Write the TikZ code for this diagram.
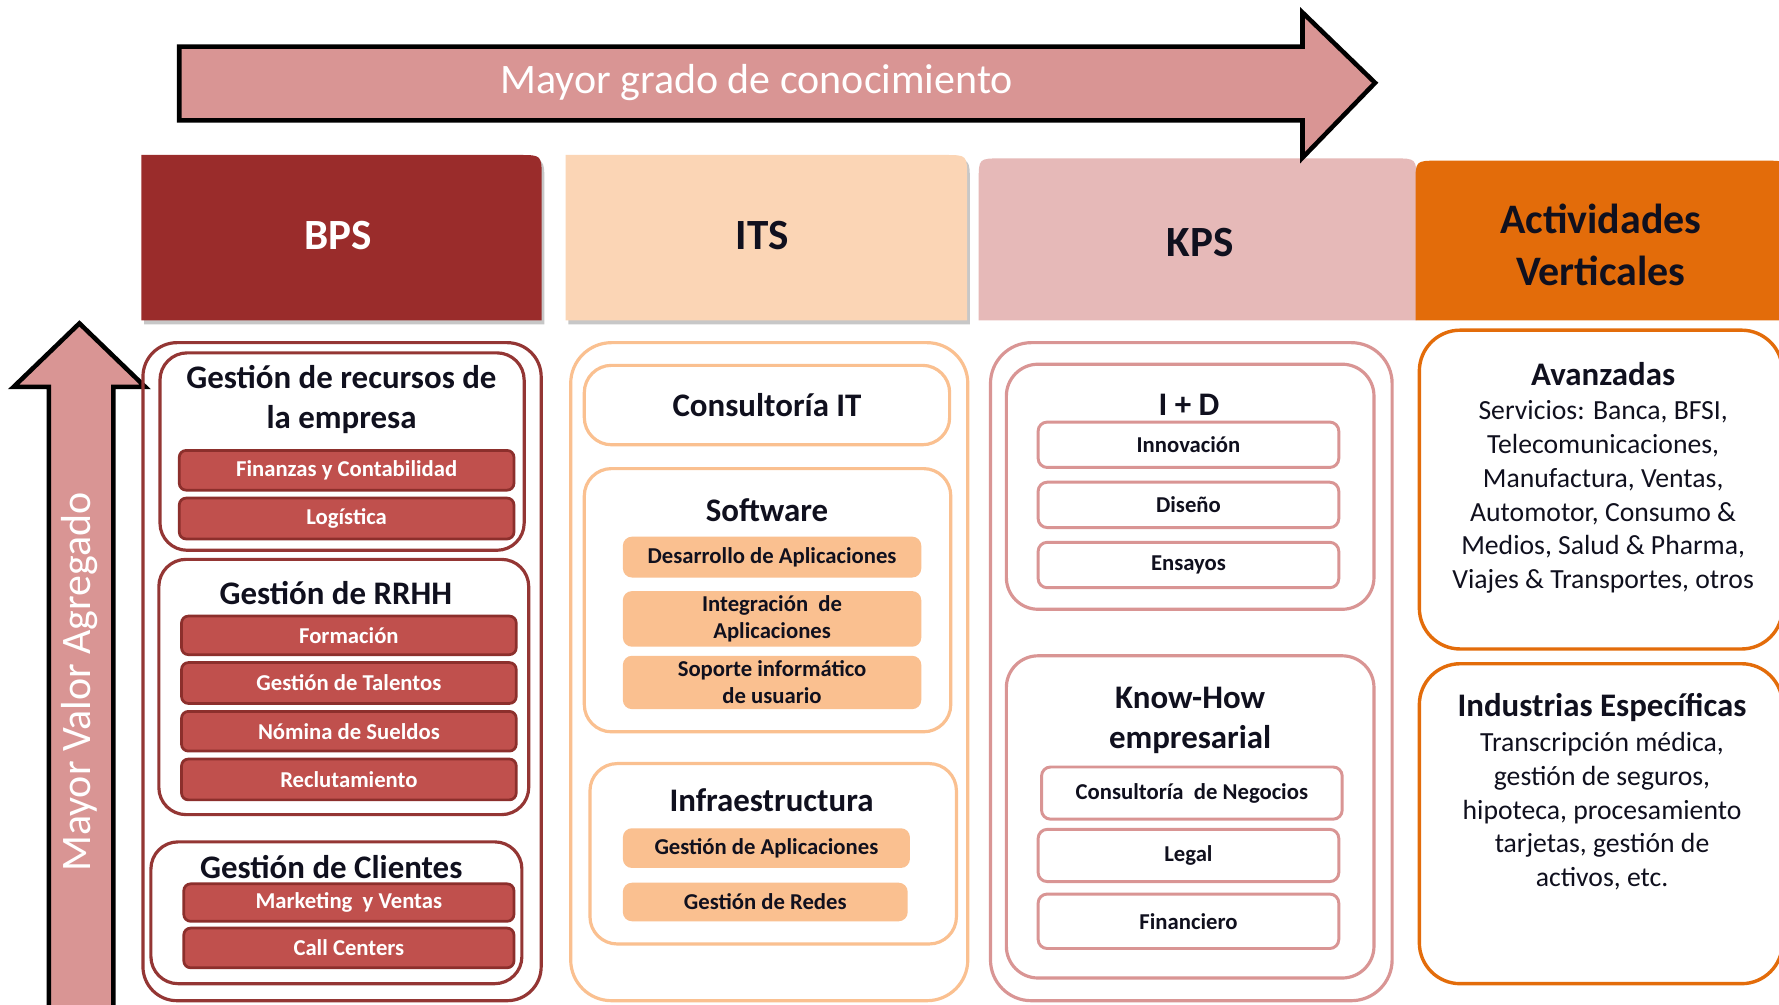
\documentclass[tikz,border=0pt]{standalone}
\usepackage{fontspec}
\setmainfont{Carlito}
\usetikzlibrary{fit}

\definecolor{arrowpink}{HTML}{D99594}
\definecolor{bpsdark}{HTML}{9A2C2B}
\definecolor{bpsline}{HTML}{943634}
\definecolor{bpsitem}{HTML}{C0504D}
\definecolor{bpsitemline}{HTML}{8C2F2C}
\definecolor{itshead}{HTML}{FBD5B5}
\definecolor{itsline}{HTML}{FAC090}
\definecolor{kpshead}{HTML}{E6B9B8}
\definecolor{kpsline}{HTML}{D99594}
\definecolor{avhead}{HTML}{E36C0A}
\definecolor{txt}{HTML}{10101E}

\newcommand{\fsz}[2]{\fontsize{#1}{#2}\selectfont}

\begin{document}
\begin{tikzpicture}[x=0.5pt,y=-0.5pt,
  colbps/.style={draw=bpsline, line width=1.4pt, rounded corners=15pt, inner sep=0pt},
  grpbps/.style={draw=bpsline, line width=1.4pt, rounded corners=12pt, inner sep=0pt},
  itembps/.style={draw=bpsitemline, line width=1.2pt, fill=bpsitem, rounded corners=3pt, inner sep=0pt},
  colits/.style={draw=itsline, line width=1.4pt, rounded corners=18pt, inner sep=0pt},
  grpits/.style={draw=itsline, line width=1.4pt, rounded corners=12pt, inner sep=0pt},
  itemits/.style={fill=itsline, rounded corners=4pt, inner sep=0pt},
  colkps/.style={draw=kpsline, line width=1.4pt, rounded corners=18pt, inner sep=0pt},
  grpkps/.style={draw=kpsline, line width=1.4pt, rounded corners=14pt, inner sep=0pt},
  itemkps/.style={draw=kpsline, line width=1.3pt, fill=white, rounded corners=4pt, inner sep=0pt},
  grpav/.style={draw=avhead, line width=1.5pt, rounded corners=18pt, inner sep=0pt},
  whitelbl/.style={text=white, font=\bfseries\fsz{10}{12}, align=center, inner sep=0pt},
  darklbl/.style={text=txt, font=\bfseries\fsz{10}{12}, align=center, inner sep=0pt},
  titletxt/.style={text=txt, font=\bfseries\fsz{14.5}{17.5}, align=center, inner sep=0pt},
  bodytxt/.style={text=txt, font=\fsz{12.2}{14.9}, align=center, inner sep=0pt},
  hdrtxt/.style={font=\bfseries\fsz{19}{23}, align=center, inner sep=0pt},
  arrowtxt/.style={text=white, font=\fsz{18.5}{22}, inner sep=0pt},
  bigarrow/.style={fill=arrowpink, draw=black, line width=2pt, line join=miter},
  hdrbox/.style={inner sep=0pt}
]
\useasboundingbox (0,0) rectangle (1568,885);
\fill[white] (0,0) rectangle (1568,885);

% ---------- headers ----------
\node[hdrbox, fit={(125,137) (477,282)}] (bps) {};
\node[hdrbox, fit={(499,137) (852,282)}] (its) {};
\node[hdrbox, fit={(863,140) (1248,282)}] (kps) {};
\node[hdrbox, fit={(1248,142) (1575,282)}] (av) {};

\begin{scope}[transform canvas={shift={(1.2pt,-1.8pt)}}]
\fill[black, opacity=0.22] (bps.south west) -- (bps.north west) -- ([xshift=-10pt]bps.north east) .. controls (bps.north east) .. ([yshift=-10pt]bps.north east) -- (bps.south east) -- cycle;
\fill[black, opacity=0.22] (its.south west) -- (its.north west) -- ([xshift=-10pt]its.north east) .. controls (its.north east) .. ([yshift=-10pt]its.north east) -- (its.south east) -- cycle;
\end{scope}

\fill[bpsdark] (bps.south west) -- (bps.north west) -- ([xshift=-10pt]bps.north east) .. controls (bps.north east) .. ([yshift=-10pt]bps.north east) -- (bps.south east) -- cycle;
\fill[itshead] (its.south west) -- (its.north west) -- ([xshift=-10pt]its.north east) .. controls (its.north east) .. ([yshift=-10pt]its.north east) -- (its.south east) -- cycle;
\fill[kpshead] (kps.south west) -- ([yshift=-10pt]kps.north west) .. controls (kps.north west) .. ([xshift=10pt]kps.north west) -- ([xshift=-10pt]kps.north east) .. controls (kps.north east) .. ([yshift=-10pt]kps.north east) -- (kps.south east) -- cycle;
\fill[avhead] (av.south west) -- ([yshift=-10pt]av.north west) .. controls (av.north west) .. ([xshift=10pt]av.north west) -- ([xshift=-10pt]av.north east) .. controls (av.north east) .. ([yshift=-10pt]av.north east) -- (av.south east) -- cycle;

\node[hdrtxt, text=white] (bpst) at (298,208) {BPS};
\node[hdrtxt, text=txt] (itst) at (672,208) {ITS};
\node[hdrtxt, text=txt] (kpst) at (1058,214) {KPS};
\node[hdrtxt, text=txt, font=\bfseries\fsz{18.5}{23}] (avt0) at (1411,216) {Actividades\\Verticales};

% ---------- top arrow ----------
\draw[bigarrow] (158,41) -- (1148,41) -- (1148,11) -- (1212,73) -- (1148,139) -- (1148,106) -- (158,106) -- cycle;
\node[arrowtxt] (topt) at (667,73) {Mayor grado de conocimiento};

% ---------- left arrow ----------
\draw[bigarrow] (43,895) -- (43,341) -- (12,341) -- (70,285) -- (128,341) -- (100,341) -- (100,895);
\node[arrowtxt, rotate=90] (leftt) at (70,601) {Mayor Valor Agregado};

% ---------- BPS column ----------
\node[colbps, fit={(126,302) (477,882)}] (bpscol) {};
\node[grpbps, fit={(141,311) (462,485)}] (g1) {};
\node[titletxt] (g1t) at (301,352) {Gestión de recursos de\\la empresa};
\node[itembps, fit={(158,397) (453,432)}, label={[whitelbl]center:Finanzas y Contabilidad}] (fin) {};
\node[itembps, fit={(158,439) (453,475)}, label={[whitelbl]center:Logística}] (log) {};

\node[grpbps, fit={(140,493) (466,718)}] (g2) {};
\node[titletxt] (g2t) at (296,523) {Gestión de RRHH};
\node[itembps, fit={(160,543) (455,577)}, label={[whitelbl]center:Formación}] (for) {};
\node[itembps, fit={(160,584) (455,620)}, label={[whitelbl]center:Gestión de Talentos}] (tal) {};
\node[itembps, fit={(160,627) (455,662)}, label={[whitelbl]center:Nómina de Sueldos}] (nom) {};
\node[itembps, fit={(160,669) (455,705)}, label={[whitelbl]center:Reclutamiento}] (rec) {};

\node[grpbps, fit={(133,742) (460,867)}] (g3) {};
\node[titletxt] (g3t) at (292,764) {Gestión de Clientes};
\node[itembps, fit={(162,779) (453,812)}, label={[whitelbl]center:Marketing~ y Ventas}] (mkt) {};
\node[itembps, fit={(162,818) (453,853)}, label={[whitelbl]center:Call Centers}] (cc) {};

% ---------- ITS column ----------
\node[colits, fit={(503,302) (853,882)}] (itscol) {};
\node[grpits, fit={(515,322) (837,392)}, label={[titletxt]center:Consultoría IT}] (cit) {};
\node[grpits, fit={(515,413) (838,645)}] (sw) {};
\node[titletxt] (swt) at (676,450) {Software};
\node[itemits, fit={(549,473) (812,509)}, label={[darklbl]center:Desarrollo de Aplicaciones}] (des) {};
\node[itemits, fit={(549,521) (812,570)}, label={[darklbl]center:{Integración~ de\\Aplicaciones}}] (int) {};
\node[itemits, fit={(549,578) (812,625)}, label={[darklbl]center:{Soporte informático\\de usuario}}] (sop) {};
\node[grpits, fit={(520,673) (843,832)}] (inf) {};
\node[titletxt] (inft) at (680,705) {Infraestructura};
\node[itemits, fit={(549,730) (802,765)}, label={[darklbl]center:Gestión de Aplicaciones}] (gap) {};
\node[itemits, fit={(549,778) (800,812)}, label={[darklbl]center:Gestión de Redes}] (gre) {};

% ---------- KPS column ----------
\node[colkps, fit={(873,302) (1227,882)}] (kpscol) {};
\node[grpkps, fit={(887,321) (1211,537)}] (id) {};
\node[titletxt] (idt) at (1048,357) {I + D};
\node[itemkps, fit={(915,372) (1180,412)}, label={[darklbl]center:Innovación}] (inn) {};
\node[itemkps, fit={(915,425) (1180,465)}, label={[darklbl]center:Diseño}] (dis) {};
\node[itemkps, fit={(915,478) (1180,518)}, label={[darklbl]center:Ensayos}] (ens) {};
\node[grpkps, fit={(887,578) (1211,862)}] (kh) {};
\node[titletxt] (kht) at (1049,635) {Know-How\\empresarial};
\node[itemkps, fit={(918,676) (1183,722)}, label={[darklbl]center:Consultoría~ de Negocios}] (cne) {};
\node[itemkps, fit={(915,731) (1180,777)}, label={[darklbl]center:Legal}] (leg) {};
\node[itemkps, fit={(915,788) (1180,836)}, label={[darklbl]center:Financiero}] (fnc) {};

% ---------- Actividades Verticales ----------
\node[grpav, fit={(1251,291) (1571,572)}] (ava) {};
\node[titletxt] (avat) at (1413,330) {Avanzadas};
\node[bodytxt] (avab) at (1413,438) {Servicios: Banca, BFSI,\\Telecomunicaciones,\\Manufactura, Ventas,\\Automotor, Consumo \&\\Medios, Salud \& Pharma,\\Viajes \& Transportes, otros};
\node[grpav, fit={(1251,585) (1571,867)}] (ind) {};
\node[titletxt] (indt) at (1412,624) {Industrias Específicas};
\node[bodytxt] (indb) at (1412,715) {Transcripción médica,\\gestión de seguros,\\hipoteca, procesamiento\\tarjetas, gestión de\\activos, etc.};
\end{tikzpicture}
\end{document}
